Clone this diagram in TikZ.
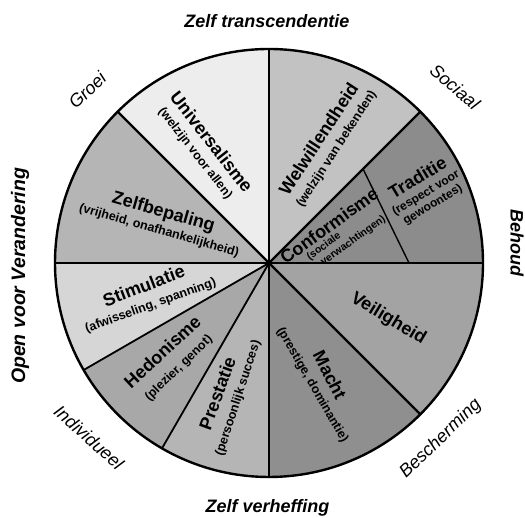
\documentclass[tikz,border=0pt]{standalone}
\usepackage{fontspec}
\setmainfont{Liberation Sans}
\usetikzlibrary{calc}
% grey tones of the value slices
\definecolor{cUniv}{gray}{0.93}
\definecolor{cWelw}{gray}{0.76}
\definecolor{cZelf}{gray}{0.71}
\definecolor{cStim}{gray}{0.84}
\definecolor{cHedo}{gray}{0.66}
\definecolor{cPres}{gray}{0.71}
\definecolor{cMach}{gray}{0.56}
\definecolor{cVeil}{gray}{0.64}
\definecolor{cTrad}{gray}{0.55}
\newcommand\pieslice[3]{\fill[#3] (c) -- ($(c)+(#1:\R)$) arc[start angle=#1, end angle=#2, radius=\R] -- cycle;}
\begin{document}
\begin{tikzpicture}[x=1pt,y=1pt,
  radial/.style={line width=1.8pt, line cap=round},
  major/.style={line width=2.4pt, line cap=round},
  valtitle/.style={font=\fontsize{18}{20}\selectfont\bfseries, inner sep=0pt},
  valsub/.style={font=\fontsize{12.5}{14}\selectfont\bfseries, inner sep=0pt, align=center},
  valsmall/.style={font=\fontsize{10.5}{12}\selectfont\bfseries, inner sep=0pt},
  dimension/.style={font=\fontsize{18}{20}\selectfont\bfseries\itshape, inner sep=0pt},
  quadrant/.style={font=\fontsize{18}{20}\selectfont\itshape, inner sep=0pt},
]
\useasboundingbox (0,0) rectangle (525,518);
\fill[white] (0,0) rectangle (525,518);
\coordinate (c) at (269,255);
\def\R{214}

% slices
\pieslice{90}{135}{cUniv}
\pieslice{135}{180}{cZelf}
\pieslice{180}{210}{cStim}
\pieslice{210}{240}{cHedo}
\pieslice{240}{270}{cPres}
\pieslice{270}{315}{cMach}
\pieslice{315}{360}{cVeil}
\pieslice{0}{45}{cTrad}
\pieslice{45}{90}{cWelw}

% slice borders
\foreach \a in {90,180,210,240,270,0} \draw[radial] (c) -- ($(c)+(\a:\R)$);
\foreach \a in {45,135,315} \draw[major] (c) -- ($(c)+(\a:\R)$);
\coordinate (confA) at ($(c)+(45:133)$);
\coordinate (confB) at ($(c)+(0:140)$);
\draw[line width=1.4pt] (confA) -- (confB);
\draw[major] (c) circle[radius=\R];
\fill (c) circle[radius=2.6];

% value labels
\node[valtitle, rotate=-52] (univ) at (211.7,376.3) {Universalisme};
\node[valsub, rotate=-52] (univs) at (195,364.7) {(welzijn voor allen)};
\node[valtitle, rotate=57] (welw) at (318.3,379) {Welwillendheid};
\node[valsub, rotate=57] (welws) at (336.7,369) {(welzijn van bekenden)};
\node[valtitle, rotate=-16] (zelf) at (163.3,305.3) {Zelfbepaling};
\node[valsub, rotate=-16] (zelfs) at (159,287.3) {(vrijheid, onafhankelijkheid)};
\node[valtitle, rotate=21] (stim) at (143.7,232.3) {Stimulatie};
\node[valsub, rotate=20] (stims) at (150.7,212) {(afwisseling, spanning)};
\node[valtitle, rotate=43] (hedo) at (162.3,166.3) {Hedonisme};
\node[valsub, rotate=44] (hedos) at (179,149.7) {(plezier, genot)};
\node[valtitle, rotate=70] (pres) at (217.3,124.7) {Prestatie};
\node[valsub, rotate=72] (press) at (238.3,119.7) {(persoonlijk succes)};
\node[valtitle, rotate=-63] (mach) at (330,143) {Macht};
\node[valsub, rotate=-60] (machs) at (312.3,133) {(prestige, dominantie)};
\node[valtitle, rotate=-31] (veil) at (388.3,199) {Veiligheid};
\node[valtitle, rotate=31] (trad) at (417.5,340.5) {Traditie};
\node[valsub, rotate=31, font=\fontsize{12}{13.5}\selectfont\bfseries] (trads) at (429.5,318.8) {(respect voor\\gewoontes)};
\node[valtitle, rotate=36] (conf) at (329,292.3) {Conformisme};
\node[valsmall, rotate=36] (confs1) at (324,271.3) {(sociale};
\node[valsmall, rotate=36] (confs2) at (353.3,277.3) {verwachtingen)};

% higher order dimensions
\node[dimension] (transc) at (267,496.5) {Zelf transcendentie};
\node[dimension] (verh) at (267.5,10) {Zelf verheffing};
\node[dimension, rotate=90, font=\fontsize{19.5}{21}\selectfont\bfseries\itshape] (open) at (20,242) {Open voor Verandering};
\node[dimension, rotate=-90] (behoud) at (517,275) {Behoud};

% quadrant labels
\node[quadrant, rotate=44] (groei) at (87.3,428) {Groei};
\node[quadrant, rotate=-41] (sociaal) at (455,431.3) {Sociaal};
\node[quadrant, rotate=-42] (indiv) at (89,80.7) {Individueel};
\node[quadrant, rotate=44] (besch) at (440.7,79) {Bescherming};
\end{tikzpicture}
\end{document}
